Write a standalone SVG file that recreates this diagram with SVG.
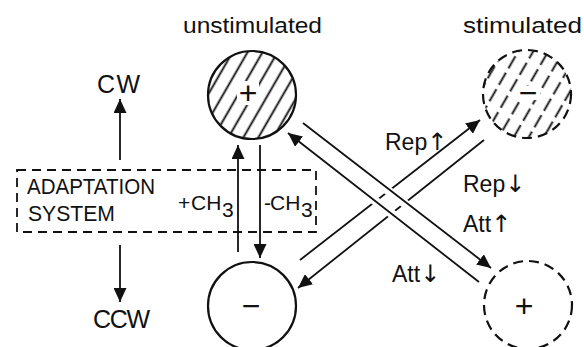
<svg xmlns="http://www.w3.org/2000/svg" width="584" height="347" viewBox="0 0 584 347">
<style>
.t{font-family:"Liberation Sans",Arial,sans-serif;fill:#111}
.ar{font-family:"DejaVu Sans",sans-serif;font-size:24px}
.c{fill:none;stroke:#111;stroke-width:2.2}
.d{stroke-dasharray:10 6}
.ln{stroke:#111;stroke-width:1.8;fill:none}
.halo{stroke:#fff;stroke-width:9;fill:none}
.box{fill:none;stroke:#111;stroke-width:1.8;stroke-dasharray:9 6}
.sym{font-family:"Liberation Sans",Arial,sans-serif;font-size:32px;fill:#111;text-anchor:middle}
</style>
<defs>
<marker id="ah" markerUnits="userSpaceOnUse" markerWidth="15" markerHeight="13" refX="14" refY="6.5" orient="auto">
<path d="M0,0 L14,6.5 L0,13 z" fill="#111"/>
</marker>
<pattern id="hatch" patternUnits="userSpaceOnUse" width="13" height="13" patternTransform="rotate(30)">
<line x1="6.5" y1="0" x2="6.5" y2="13" stroke="#111" stroke-width="1.9"/>
</pattern>
<pattern id="hatchd" patternUnits="userSpaceOnUse" width="13" height="19" patternTransform="rotate(30)">
<line x1="6.5" y1="0" x2="6.5" y2="14" stroke="#111" stroke-width="1.9"/>
</pattern>
</defs>
<rect width="584" height="347" fill="#fff"/>

<g id="labels">
<text class="t" x="183" y="33" font-size="22" textLength="139" lengthAdjust="spacingAndGlyphs">unstimulated</text>
<text class="t" x="463" y="33" font-size="22" textLength="119" lengthAdjust="spacingAndGlyphs">stimulated</text>
</g>

<g id="node-cw"><text class="t" x="97" y="93" font-size="25" textLength="43" lengthAdjust="spacing">CW</text></g>
<g id="node-ccw"><text class="t" x="93" y="328" font-size="25" textLength="57" lengthAdjust="spacing">CCW</text></g>

<g id="node-adaptation">
<rect class="box" x="17" y="170" width="299" height="62"/>
<text class="t" x="27" y="194" font-size="22" textLength="128" lengthAdjust="spacingAndGlyphs">ADAPTATION</text>
<text class="t" x="28" y="221" font-size="22" textLength="87" lengthAdjust="spacingAndGlyphs">SYSTEM</text>
<text class="t" x="178" y="210" font-size="21">+<tspan x="191">CH</tspan><tspan x="222" dy="7">3</tspan></text>
<text class="t" x="264" y="210" font-size="21">-<tspan x="270">CH</tspan><tspan x="301" dy="7">3</tspan></text>
</g>

<g id="node-unstim-plus">
<circle cx="252" cy="95" r="44" fill="url(#hatch)"/>
<rect x="237" y="81" width="22" height="24" fill="#fff"/>
<circle class="c" cx="252" cy="95" r="44"/>
<text class="sym" x="248" y="104">+</text>
</g>

<g id="node-stim-minus">
<circle cx="527" cy="94" r="44" fill="url(#hatchd)"/>
<rect x="516" y="86" width="24" height="14" fill="#fff"/>
<circle class="c d" cx="527" cy="94" r="44"/>
<text class="sym" x="528" y="104">−</text>
</g>

<g id="node-unstim-minus">
<circle class="c" cx="252" cy="306" r="44"/>
<text class="sym" x="251" y="317">−</text>
</g>

<g id="node-stim-plus">
<circle class="c d" cx="528" cy="305" r="44"/>
<text class="sym" x="524" y="317">+</text>
</g>

<g id="connectors">
<line class="ln" x1="120" y1="160" x2="120" y2="99" marker-end="url(#ah)"/>
<line class="ln" x1="120" y1="245" x2="120" y2="302" marker-end="url(#ah)"/>
<line class="ln" x1="238" y1="252" x2="238" y2="145" marker-end="url(#ah)"/>
<line class="ln" x1="260" y1="145" x2="260" y2="258" marker-end="url(#ah)"/>
<line class="ln" x1="300" y1="260" x2="480" y2="120" marker-end="url(#ah)"/>
<line class="ln" x1="484" y1="140" x2="298" y2="288" marker-end="url(#ah)"/>
<line class="halo" x1="320" y1="138" x2="470" y2="254"/>
<line class="halo" x1="305" y1="146" x2="460" y2="267"/>
<line class="ln" x1="303" y1="123" x2="491" y2="268" marker-end="url(#ah)"/>
<line class="ln" x1="479" y1="282" x2="288" y2="133" marker-end="url(#ah)"/>
<text class="t" x="385" y="150" font-size="23">Rep<tspan class="ar">↑</tspan></text>
<text class="t" x="463" y="192" font-size="23">Rep<tspan class="ar">↓</tspan></text>
<text class="t" x="463" y="232" font-size="23">Att<tspan class="ar">↑</tspan></text>
<text class="t" x="392" y="282" font-size="23">Att<tspan class="ar">↓</tspan></text>
</g>
</svg>
